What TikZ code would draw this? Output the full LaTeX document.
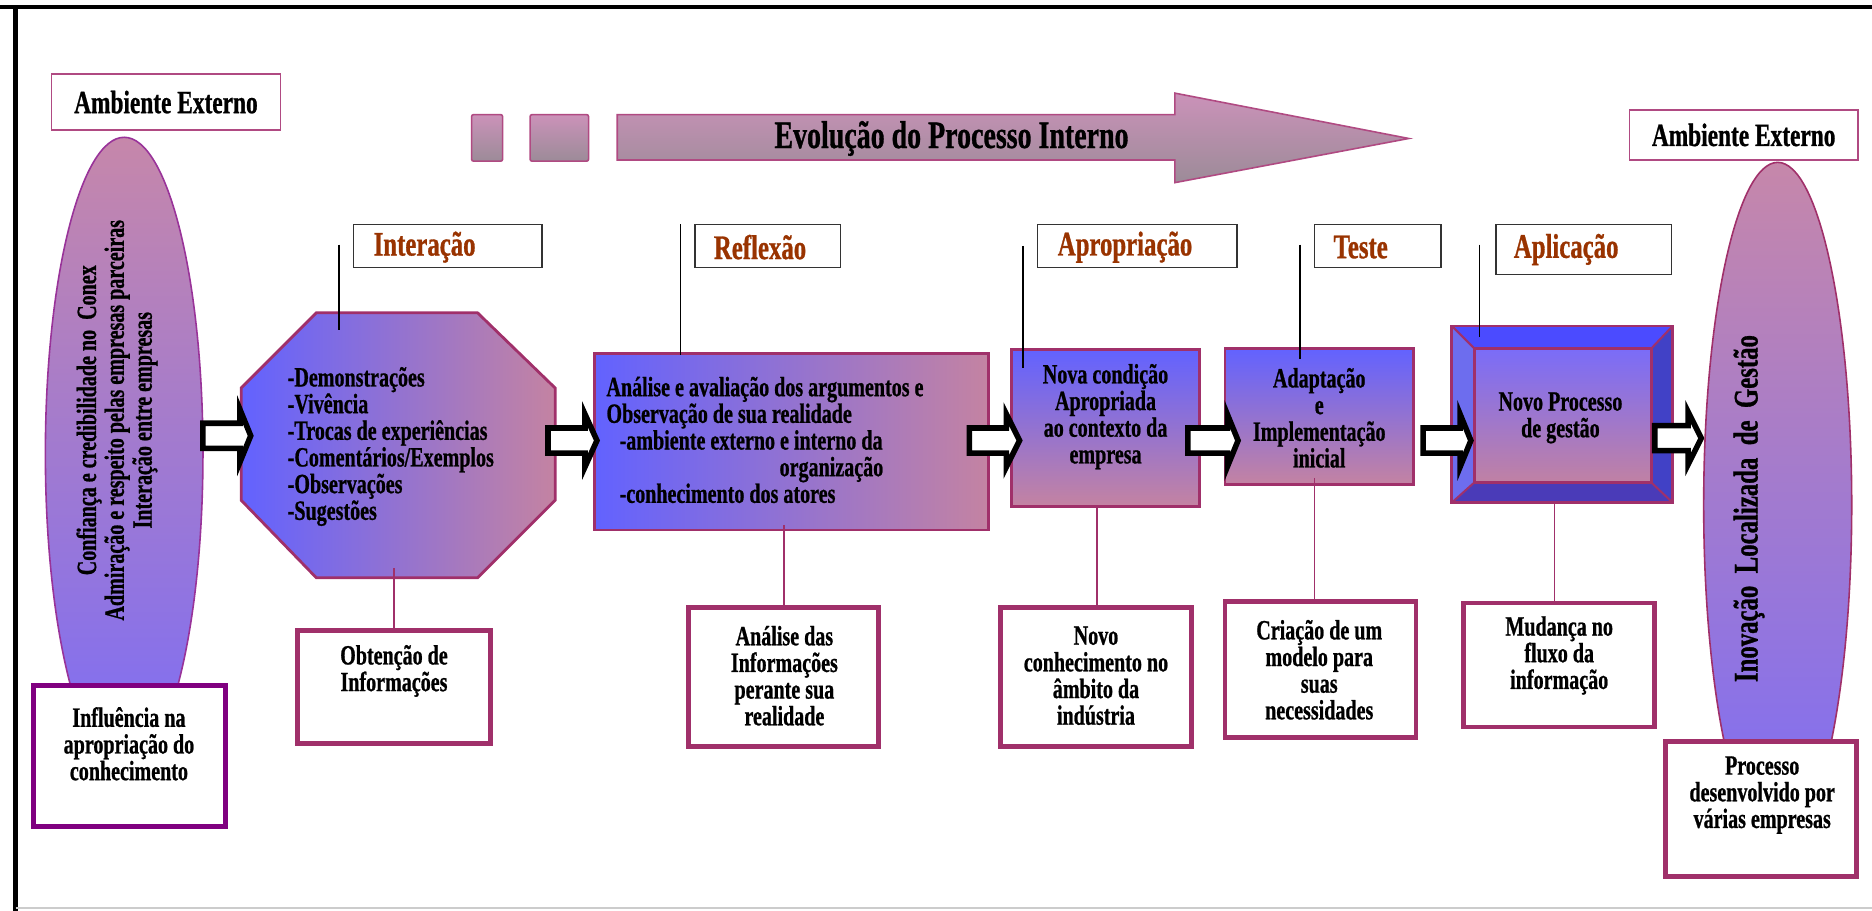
\documentclass[tikz,border=0pt]{standalone}
\usepackage{fontspec}
\setmainfont{Liberation Serif}[FakeStretch=0.72,BoldFeatures={FakeBold=0.8}]
\usetikzlibrary{shapes.geometric}

\definecolor{edgepink}{HTML}{A0306A}
\definecolor{framepink}{HTML}{B04A82}
\definecolor{plum}{HTML}{800080}
\definecolor{stagebrown}{HTML}{993300}
\definecolor{flowblue}{HTML}{6262FF}
\definecolor{flowmauve}{HTML}{C483A2}
\definecolor{ovaltop}{HTML}{C687AA}
\definecolor{ovalbot}{HTML}{7C6DF6}
\definecolor{bandtop}{HTML}{CB92B9}
\definecolor{bandbot}{HTML}{9C8B98}
\definecolor{bevtop}{HTML}{4B4BFF}
\definecolor{bevleft}{HTML}{6D6DEE}
\definecolor{bevright}{HTML}{4141C6}
\definecolor{bevbot}{HTML}{4A3BB8}
\definecolor{facetop}{HTML}{7A6CF8}
\definecolor{facebot}{HTML}{C081A4}

\newcommand\bodyfnt{\fontsize{14}{13.4}\selectfont\bfseries}
\newcommand\envfnt{\fontsize{16.3}{17}\selectfont\bfseries}
\newcommand\stagefnt{\fontsize{17.3}{18}\selectfont\bfseries}
\newcommand\evofnt{\fontsize{19.5}{20}\selectfont\bfseries}
\newcommand\ovalfnt{\fontsize{14}{14}\selectfont\bfseries}
\newcommand\inovfnt{\fontsize{17.3}{18}\selectfont\bfseries}

% hollow block arrow: x start, head base, tip, centre y
\newcommand\blockarrow[4]{%
  \draw[hollow] (#1,#4-10.5) -- (#2,#4-10.5) -- (#2,#4-22) -- (#3,#4)
    -- (#2,#4+22) -- (#2,#4+10.5) -- (#1,#4+10.5) -- cycle;}

\begin{document}
\begin{tikzpicture}[x=0.6pt,y=-0.6pt,
  every node/.style={inner sep=0pt,outer sep=0pt},
  dims/.style 2 args={minimum width=#1*0.6pt,minimum height=#2*0.6pt},
  envbox/.style={draw=framepink,line width=0.8pt,fill=white,font=\envfnt},
  stagebox/.style={draw=black!80,line width=0.8pt,fill=white},
  notebox/.style={draw=edgepink,line width=2.4pt,fill=white},
  txt/.style={font=\bodyfnt,align=center},
  stagetxt/.style={font=\stagefnt,text=stagebrown,anchor=west},
  flowshape/.style={draw=edgepink,line width=1.4pt},
  hshade/.style={left color=flowblue,right color=flowmauve},
  vshade/.style={top color=flowblue,bottom color=flowmauve},
  band/.style={draw=framepink,line width=0.8pt,top color=bandtop,bottom color=bandbot},
  leader/.style={draw=black,line width=0.7pt},
  stem/.style={draw=edgepink,line width=0.8pt},
  hollow/.style={draw=black,line width=2.8pt,fill=white,line join=miter}]

\useasboundingbox (0,0) rectangle (1568,763);

% page frame
\draw[line width=1.8pt] (0,6) -- (1568,6);
\draw[line width=2.4pt] (13,5) -- (13,763);
\draw[black!20,line width=1pt] (13,760.5) -- (1568,760.5);

% left external environment
\node[ellipse,draw=plum!80,line width=0.8pt,top color=ovaltop,bottom color=ovalbot,
      dims={132}{530}] (ovalL) at (104,380) {};
\node[font=\ovalfnt,align=center,rotate=90] (ovalLtxt) at (98,352)
  {Confiança e credibilidade no\ \ Conex\\Admiração e respeito pelas empresas parceiras\\Interação entre empresas};
\node[envbox,dims={192}{47}] (envL) at (139,85.5) {Ambiente Externo};
\node[notebox,draw=plum,dims={161}{118}] (infl) at (108.5,633) {};
\node[txt] (inflT) at (108,623) {Influência na\\apropriação do\\conhecimento};

% internal evolution band
\draw[band,rounded corners=1pt] (395,96) rectangle (421,135);
\draw[band,rounded corners=1pt] (444,96) rectangle (493,135);
\draw[band] (517,96) -- (984,96) -- (984,78) -- (1180,116) -- (984,153)
  -- (984,134) -- (517,134) -- cycle;
\node[font=\evofnt] (evo) at (797,116) {Evolução do Processo Interno};

% stage 1: interaction
\draw[flowshape,hshade] (265,262) -- (400,262) -- (465,325) -- (465,419)
  -- (400,484) -- (265,484) -- (202,419) -- (202,325) -- cycle;
\coordinate (oct) at (333.5,373);
\node[font=\bodyfnt,align=left,anchor=west] (octT) at (241,374)
  {-Demonstrações\\-Vivência\\-Trocas de experiências\\-Comentários/Exemplos\\-Observações\\-Sugestões};

% stage 2: reflection
\node[flowshape,hshade,dims={330}{148}] (refl) at (663,370) {};
\node[font=\bodyfnt,align=left,anchor=west] (reflT) at (508,368.5)
  {Análise e avaliação dos argumentos e\\Observação de sua realidade\\
   \hspace*{6.6pt}-ambiente externo e interno da\\\hspace*{87pt}organização\\
   \hspace*{6.6pt}-conhecimento dos atores};

% stage 3: appropriation
\node[flowshape,vshade,dims={158}{131}] (apr) at (926,358.5) {};
\node[txt] (aprT) at (926,349) {Nova condição\\Apropriada\\ao contexto da\\empresa};

% stage 4: test
\node[flowshape,vshade,dims={158}{114}] (tes) at (1105,349) {};
\node[txt] (tesT) at (1105,350) {Adaptação\\e\\Implementação\\inicial};

% stage 5: application (bevelled frame)
\fill[bevtop] (1216,273) -- (1401,273) -- (1383,292) -- (1235,292) -- cycle;
\fill[bevleft] (1216,273) -- (1235,292) -- (1235,404) -- (1216,421) -- cycle;
\fill[bevright] (1401,273) -- (1401,421) -- (1383,404) -- (1383,292) -- cycle;
\fill[bevbot] (1216,421) -- (1235,404) -- (1383,404) -- (1401,421) -- cycle;
\node[flowshape,top color=facetop,bottom color=facebot,dims={148}{112}] (bev) at (1309,348) {};
\node[draw=edgepink,line width=1.4pt,dims={185}{148}] (bevOut) at (1308.5,347) {};
\draw[edgepink,line width=1pt] (1216,273) -- (1235,292) (1401,273) -- (1383,292)
  (1216,421) -- (1235,404) (1401,421) -- (1383,404);
\node[txt] (bevT) at (1307,350) {Novo Processo\\de gestão};

% right external environment
\node[ellipse,draw=edgepink,line width=0.8pt,top color=ovaltop,bottom color=ovalbot,
      dims={124}{574}] (ovalR) at (1489,423) {};
\node[font=\inovfnt,rotate=90] (ovalRT) at (1465,426) {Inovação\ \ Localizada\ \ de\ \ Gestão};
\node[envbox,dims={191}{42}] (envR) at (1460.5,113) {Ambiente Externo};
\node[notebox,dims={160}{113}] (proc) at (1475,677.5) {};
\node[txt] (procT) at (1476,666) {Processo\\desenvolvido por\\várias empresas};

% stage labels
\node[stagebox,dims={158}{36}] (sInt) at (375,206) {};
\node[stagetxt] (sIntT) at (313,207) {Interação};
\node[stagebox,dims={122}{36}] (sRef) at (643,206) {};
\node[stagetxt] (sRefT) at (598,207) {Reflexão};
\node[stagebox,dims={167}{36}] (sApr) at (952.5,206) {};
\node[stagetxt] (sAprT) at (886,207) {Apropriação};
\node[stagebox,dims={106}{36}] (sTes) at (1154,206) {};
\node[stagetxt] (sTesT) at (1117,207) {Teste};
\node[stagebox,dims={147}{42}] (sApl) at (1326.5,209) {};
\node[stagetxt] (sAplT) at (1268,209) {Aplicação};

% label leaders
\coordinate (kInt) at (284,205);
\coordinate (kRef) at (570,188);
\coordinate (kApr) at (857,206);
\coordinate (kTes) at (1089,205);
\coordinate (kApl) at (1239,205);
\draw[leader] (kInt) -- ++(0,71);
\draw[leader] (kRef) -- ++(0,109);
\draw[leader] (kApr) -- ++(0,102);
\draw[leader] (kTes) -- ++(0,96);
\draw[leader] (kApl) -- ++(0,77);

% outcome notes
\node[notebox,dims={162}{95}] (obt) at (330,575.5) {};
\node[txt] (obtT) at (330,562) {Obtenção de\\Informações};
\node[notebox,dims={159}{116}] (ana) at (656.5,567) {};
\node[txt] (anaT) at (657,566) {Análise das\\Informações\\perante sua\\realidade};
\node[notebox,dims={160}{116}] (nov) at (918,567) {};
\node[txt] (novT) at (918,566) {Novo\\conhecimento no\\âmbito da\\indústria};
\node[notebox,dims={160}{114}] (cria) at (1106,561) {};
\node[txt] (criaT) at (1105,561) {Criação de um\\modelo para\\suas\\necessidades};
\node[notebox,dims={160}{104}] (mud) at (1306,557) {};
\node[txt] (mudT) at (1306,549) {Mudança no\\fluxo da\\informação};

\draw[stem] (obt.north) -- ++(0,-52);
\draw[stem] (ana.north) -- ++(0,-69);
\draw[stem] ([xshift=0.6pt]nov.north) -- ++(0,-85);
\draw[stem] ([xshift=-3pt]cria.north) -- ++(0,-104);
\draw[stem] ([xshift=-2.4pt]mud.north) -- ++(0,-84);

% flow arrows
\blockarrow{170}{201}{210}{365}
\blockarrow{459}{490}{500}{369}
\blockarrow{812}{843}{854}{369}
\blockarrow{995}{1028}{1037}{369}
\blockarrow{1192}{1223}{1232}{369}
\blockarrow{1386}{1414}{1425}{367}

\end{tikzpicture}
\end{document}
